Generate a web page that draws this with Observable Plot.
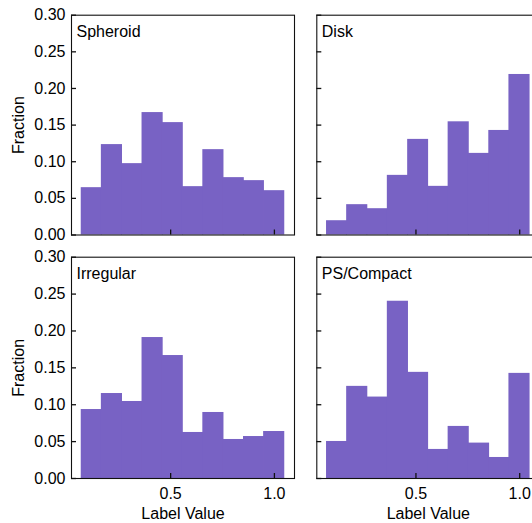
<!DOCTYPE html>
<html>
<head>
<meta charset="utf-8">
<script src="https://cdn.jsdelivr.net/npm/d3@7"></script>
<script src="https://cdn.jsdelivr.net/npm/@observablehq/plot@0.6"></script>
<style>
  html, body { margin: 0; padding: 0; background: white; }
  #wrap { position: relative; width: 532px; height: 523px; overflow: hidden; background: white; }
  #wrap > div { position: absolute; }
  svg { overflow: visible; }
</style>
</head>
<body>
<div id="wrap"></div>
<script>
const categories = ["Spheroid", "Disk", "Irregular", "PS/Compact"];
const binEdges = [0.071, 0.168, 0.266, 0.364, 0.462, 0.559, 0.657, 0.755, 0.853, 0.950, 1.048];
const spheroidFrac = [0.0646, 0.1234, 0.0974, 0.1671, 0.1534, 0.0660, 0.1165, 0.0783, 0.0742, 0.0605];
const diskFrac = [0.0195, 0.0414, 0.0359, 0.0814, 0.1305, 0.0664, 0.1545, 0.1114, 0.1427, 0.2191];
const irregularFrac = [0.0935, 0.1152, 0.1044, 0.1911, 0.1667, 0.0624, 0.0895, 0.0529, 0.0569, 0.0637];
const compactFrac = [0.0502, 0.1249, 0.1104, 0.2403, 0.1439, 0.0394, 0.0706, 0.0480, 0.0285, 0.1425];
const xTicks = [0.5, 1.0];
const yTicks = [0, 0.05, 0.10, 0.15, 0.20, 0.25, 0.30];
const xLabel = "Label Value";
const yLabel = "Fraction";

const series = [spheroidFrac, diskFrac, irregularFrac, compactFrac];
const xDomain = [binEdges[0] - 0.05 * (binEdges[10] - binEdges[0]), binEdges[10] + 0.05 * (binEdges[10] - binEdges[0])];
const FILL = "#7862c4";
const INK = "#111";
const FONT = "'Liberation Sans', Arial, Helvetica, sans-serif";

const wrap = document.getElementById("wrap");

function panel(i) {
  const col = i % 2, row = Math.floor(i / 2);
  const left = col === 0 ? 0 : 300;
  const top = row === 0 ? 0 : 246;
  const width = col === 0 ? 300 : 245;
  const marginLeft = col === 0 ? 71 : 16.3;
  const marginRight = width - marginLeft - 223;
  const height = row === 0 ? 246 : 277;
  const marginTop = row === 0 ? 14.7 : 10.7;
  const innerH = row === 0 ? 219.8 : 221.3;
  const marginBottom = height - marginTop - innerH;
  const innerW = 223;
  const bins = series[i].map((v, k) => ({x1: binEdges[k], x2: binEdges[k + 1], y: v}));

  const marks = [
    Plot.rectY(bins, {x1: "x1", x2: "x2", y: "y", fill: FILL, insetLeft: -0.4, insetRight: -0.4}),
    Plot.tickX(xTicks, {x: d => d, insetTop: innerH - 5, stroke: INK, strokeWidth: 1.3}),
    Plot.tickY(yTicks, {y: d => d, insetRight: innerW - 5, stroke: INK, strokeWidth: 1.3}),
    Plot.frame({stroke: INK, strokeWidth: 1.1}),
    Plot.text([categories[i]], {text: d => d, frameAnchor: "top-left", textAnchor: "start", lineAnchor: "top", dx: 5, dy: 10, fontSize: 16, fill: "black"})
  ];
  if (col === 0) {
    marks.push(Plot.axisY({ticks: yTicks, tickSize: 0, tickPadding: 6, tickFormat: d => d.toFixed(2), fontSize: 16, label: null}));
    marks.push(Plot.text([yLabel], {text: d => d, frameAnchor: "left", rotate: -90, textAnchor: "middle", lineAnchor: "middle", dx: -53, fontSize: 16, fill: "black"}));
  }
  if (row === 1) {
    marks.push(Plot.axisX({ticks: xTicks, tickSize: 0, tickPadding: 9, tickFormat: d => d.toFixed(1), fontSize: 16, label: null}));
    marks.push(Plot.text([xLabel], {text: d => d, frameAnchor: "bottom", textAnchor: "middle", lineAnchor: "top", dy: 28.7, fontSize: 16, fill: "black"}));
  }

  const chart = Plot.plot({
    width, height, marginLeft, marginRight, marginTop, marginBottom,
    style: {background: "transparent", fontFamily: FONT, fontSize: "16px", color: "black", maxWidth: "none", overflow: "visible"},
    x: {domain: xDomain, axis: row === 1 ? undefined : null},
    y: {domain: [0, 0.30], axis: col === 0 ? undefined : null},
    marks
  });
  const div = document.createElement("div");
  div.style.left = left + "px";
  div.style.top = top + "px";
  div.appendChild(chart);
  wrap.appendChild(div);
}

for (let i = 0; i < 4; i++) panel(i);
</script>
</body>
</html>
